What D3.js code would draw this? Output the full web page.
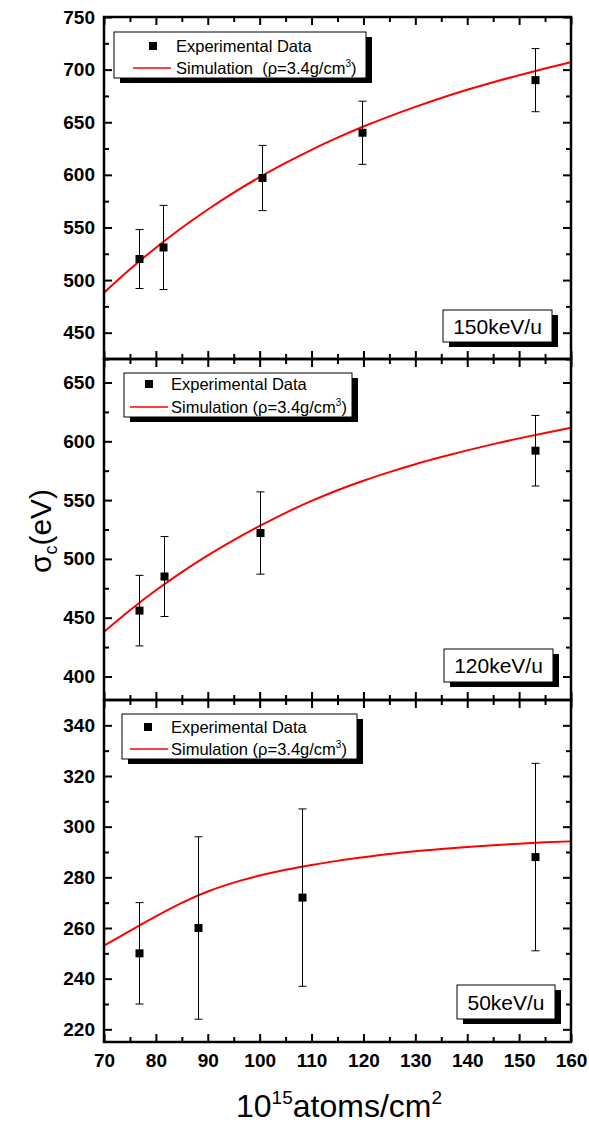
<!DOCTYPE html>
<html>
<head>
<meta charset="utf-8">
<script src="https://cdn.jsdelivr.net/npm/d3@7"></script>
<style>
html,body{margin:0;padding:0;background:#fff;}
svg{display:block;font-family:"Liberation Sans",Arial,sans-serif;}
</style>
</head>
<body>
<svg id="chart" width="589" height="1124"></svg>
<script>
// ---------- data ----------
const xTicks = [70, 80, 90, 100, 110, 120, 130, 140, 150, 160];
const xMinorTicks = [75, 85, 95, 105, 115, 125, 135, 145, 155];

const simX = [70, 75, 80, 85, 90, 95, 100, 105, 110, 115, 120, 125, 130, 135, 140, 145, 150, 155, 160];
const sim150 = [488, 510.3, 530.8, 549.7, 567.1, 583.1, 597.8, 611.3, 623.8, 635.3, 645.9, 655.6, 664.6, 673, 680.8, 688, 694.7, 701, 707];
const sim120 = [438, 456.4, 473.3, 488.8, 503, 516, 528, 539.2, 549.3, 558.4, 566.5, 573.8, 580.5, 586.6, 592.3, 597.6, 602.5, 607.1, 611.5];
const sim50  = [253, 258.9, 264.6, 269.9, 274.4, 277.9, 280.7, 283, 284.9, 286.5, 287.9, 289.2, 290.3, 291.2, 292, 292.7, 293.3, 293.8, 294.2];

const x150 = [76.7, 81.4, 100.5, 119.8, 153.1];
const y150 = [520, 531, 597, 640, 690];
const e150 = [28, 40, 31, 30, 30];

const x120 = [76.7, 81.6, 100.1, 153.1];
const y120 = [456, 485, 522, 592];
const e120 = [30, 34, 35, 30];

const x50 = [76.7, 88.05, 108.1, 153.1];
const y50 = [250, 260, 272, 288];
const e50 = [20, 36, 35, 37];

const yTicks150 = [450, 500, 550, 600, 650, 700, 750];
const yMinor150 = [425, 475, 525, 575, 625, 675, 725];
const yTicks120 = [400, 450, 500, 550, 600, 650];
const yMinor120 = [425, 475, 525, 575, 625];
const yTicks50 = [220, 240, 260, 280, 300, 320, 340];
const yMinor50 = [230, 250, 270, 290, 310, 330];

const labels = ["150keV/u", "120keV/u", "50keV/u"];
const legendText = ["Experimental Data", "Simulation  (\u03c1=3.4g/cm", "Simulation (\u03c1=3.4g/cm"];

// ---------- layout ----------
const svg = d3.select("#chart");
const left = 104, right = 571;
const x = d3.scaleLinear().domain([70, 160]).range([left, right]);

const panels = [
  {top: 17, bottom: 359, dom: [425, 750], ticks: yTicks150, minor: yMinor150, xs: x150, ys: y150, es: e150, sim: sim150,
   legend: {x0: 114, y0: 32, x1: 366, y1: 78, mx: 153, my: 46, lx0: 133, lx1: 171, ly: 68, tx: 176, b1: 51.5, b2: 74, s: legendText[1]},
   label: {x0: 443, y0: 310, x1: 552, y1: 342, text: labels[0]}},
  {top: 359, bottom: 700, dom: [380, 670], ticks: yTicks120, minor: yMinor120, xs: x120, ys: y120, es: e120, sim: sim120,
   legend: {x0: 124, y0: 373, x1: 352, y1: 417, mx: 149, my: 384, lx0: 130, lx1: 168, ly: 407, tx: 171, b1: 389.5, b2: 412.5, s: legendText[2]},
   label: {x0: 444, y0: 649, x1: 553, y1: 682, text: labels[1]}},
  {top: 700, bottom: 1042, dom: [215, 350], ticks: yTicks50, minor: yMinor50, xs: x50, ys: y50, es: e50, sim: sim50,
   legend: {x0: 122, y0: 714, x1: 357, y1: 759, mx: 148, my: 727, lx0: 130, lx1: 168, ly: 749, tx: 171, b1: 732.5, b2: 755, s: legendText[2]},
   label: {x0: 457, y0: 985, x1: 555, y1: 1019, text: labels[2]}}
];

panels.forEach((p, i) => {
  const y = d3.scaleLinear().domain(p.dom).range([p.bottom, p.top]);
  const g = svg.append("g");

  // simulation curve (clipped)
  const clipId = "clip" + i;
  svg.append("clipPath").attr("id", clipId).append("rect")
    .attr("x", left).attr("y", p.top).attr("width", right - left).attr("height", p.bottom - p.top);
  const line = d3.line().x(d => x(d[0])).y(d => y(d[1])).curve(d3.curveMonotoneX);
  g.append("path").datum(simX.map((v, k) => [v, p.sim[k]]))
    .attr("clip-path", `url(#${clipId})`)
    .attr("d", line).attr("fill", "none").attr("stroke", "#ff0000").attr("stroke-width", 2);

  // error bars
  const pts = p.xs.map((v, k) => ({x: v, y: p.ys[k], e: p.es[k]}));
  const eb = g.append("g").attr("stroke", "#000").attr("stroke-width", 1);
  pts.forEach(d => {
    const cx = Math.round(x(d.x)) + 0.5;
    eb.append("line").attr("x1", cx).attr("x2", cx).attr("y1", y(d.y + d.e)).attr("y2", y(d.y - d.e));
    eb.append("line").attr("x1", cx - 4).attr("x2", cx + 4).attr("y1", y(d.y + d.e)).attr("y2", y(d.y + d.e));
    eb.append("line").attr("x1", cx - 4).attr("x2", cx + 4).attr("y1", y(d.y - d.e)).attr("y2", y(d.y - d.e));
  });
  g.selectAll("rect.pt").data(pts).enter().append("rect")
    .attr("x", d => Math.round(x(d.x)) - 3.5).attr("y", d => y(d.y) - 4)
    .attr("width", 8).attr("height", 8).attr("fill", "#000");

  // axes
  const axStyle = sel => {
    sel.select(".domain").remove();
    sel.selectAll("line").attr("stroke", "#000").attr("stroke-width", 2);
  };
  g.append("g").attr("transform", `translate(0,${p.bottom})`)
    .call(d3.axisBottom(x).tickValues(xTicks).tickSize(-8).tickFormat(i === 2 ? d3.format("d") : ""))
    .call(axStyle)
    .call(s => s.selectAll("text").attr("font-size", 19).attr("font-weight", "bold").attr("fill", "#000").attr("y", 12).attr("dy", "0.71em"));
  g.append("g").attr("transform", `translate(0,${p.bottom})`)
    .call(d3.axisBottom(x).tickValues(xMinorTicks).tickSize(-5).tickFormat(""))
    .call(axStyle);
  g.append("g").attr("transform", `translate(0,${p.top})`)
    .call(d3.axisTop(x).tickValues(xTicks).tickSize(-8).tickFormat(""))
    .call(axStyle);
  g.append("g").attr("transform", `translate(0,${p.top})`)
    .call(d3.axisTop(x).tickValues(xMinorTicks).tickSize(-5).tickFormat(""))
    .call(axStyle);
  g.append("g").attr("transform", `translate(${left},0)`)
    .call(d3.axisLeft(y).tickValues(p.ticks).tickSize(-8).tickFormat(d3.format("d")))
    .call(axStyle)
    .call(s => s.selectAll("text").attr("font-size", 19).attr("font-weight", "bold").attr("fill", "#000").attr("x", -9));
  g.append("g").attr("transform", `translate(${left},0)`)
    .call(d3.axisLeft(y).tickValues(p.minor).tickSize(-5).tickFormat(""))
    .call(axStyle);
  g.append("g").attr("transform", `translate(${right},0)`)
    .call(d3.axisRight(y).tickValues(p.ticks).tickSize(-8).tickFormat(""))
    .call(axStyle);
  g.append("g").attr("transform", `translate(${right},0)`)
    .call(d3.axisRight(y).tickValues(p.minor).tickSize(-5).tickFormat(""))
    .call(axStyle);

  // frame
  g.append("rect").attr("x", left).attr("y", p.top).attr("width", right - left).attr("height", p.bottom - p.top)
    .attr("fill", "none").attr("stroke", "#000").attr("stroke-width", 2.5);

  // legend
  const L = p.legend;
  g.append("rect").attr("x", L.x0 + 6).attr("y", L.y0 + 5).attr("width", L.x1 - L.x0).attr("height", L.y1 - L.y0).attr("fill", "#000");
  g.append("rect").attr("x", L.x0).attr("y", L.y0).attr("width", L.x1 - L.x0).attr("height", L.y1 - L.y0)
    .attr("fill", "#fff").attr("stroke", "#000").attr("stroke-width", 1);
  g.append("rect").attr("x", L.mx - 4).attr("y", L.my - 4).attr("width", 8).attr("height", 8).attr("fill", "#000");
  g.append("line").attr("x1", L.lx0).attr("x2", L.lx1).attr("y1", L.ly).attr("y2", L.ly).attr("stroke", "#ff0000").attr("stroke-width", 1.5);
  g.append("text").attr("x", L.tx).attr("y", L.b1).attr("font-size", 16.5).attr("fill", "#000").text(legendText[0]);
  const t2 = g.append("text").attr("x", L.tx).attr("y", L.b2).attr("font-size", 16.5).attr("fill", "#000").attr("xml:space", "preserve");
  t2.append("tspan").text(L.s);
  t2.append("tspan").attr("font-size", 10).attr("dy", -7).text("3");
  t2.append("tspan").attr("dy", 7).text(")");

  // label box
  const B = p.label;
  g.append("rect").attr("x", B.x0 + 6).attr("y", B.y0 + 5).attr("width", B.x1 - B.x0).attr("height", B.y1 - B.y0).attr("fill", "#000");
  g.append("rect").attr("x", B.x0).attr("y", B.y0).attr("width", B.x1 - B.x0).attr("height", B.y1 - B.y0)
    .attr("fill", "#fff").attr("stroke", "#000").attr("stroke-width", 1);
  g.append("text").attr("x", (B.x0 + B.x1) / 2).attr("y", (B.y0 + B.y1) / 2 + 7.5)
    .attr("text-anchor", "middle").attr("font-size", 21).attr("fill", "#000").text(B.text);
});

// axis titles
const xt = svg.append("text").attr("x", 339).attr("y", 1117).attr("text-anchor", "middle").attr("font-size", 32).attr("fill", "#000");
xt.append("tspan").text("10");
xt.append("tspan").attr("font-size", 19).attr("dy", -13).text("15");
xt.append("tspan").attr("dy", 13).text("atoms/cm");
xt.append("tspan").attr("font-size", 19).attr("dy", -13).text("2");

const yt = svg.append("text").attr("transform", "translate(51,531) rotate(-90)").attr("text-anchor", "middle").attr("font-size", 30).attr("fill", "#000");
yt.append("tspan").text("\u03c3");
yt.append("tspan").attr("font-size", 18).attr("dy", 6).text("c");
yt.append("tspan").attr("dy", -6).text("(eV)");
</script>
</body>
</html>
